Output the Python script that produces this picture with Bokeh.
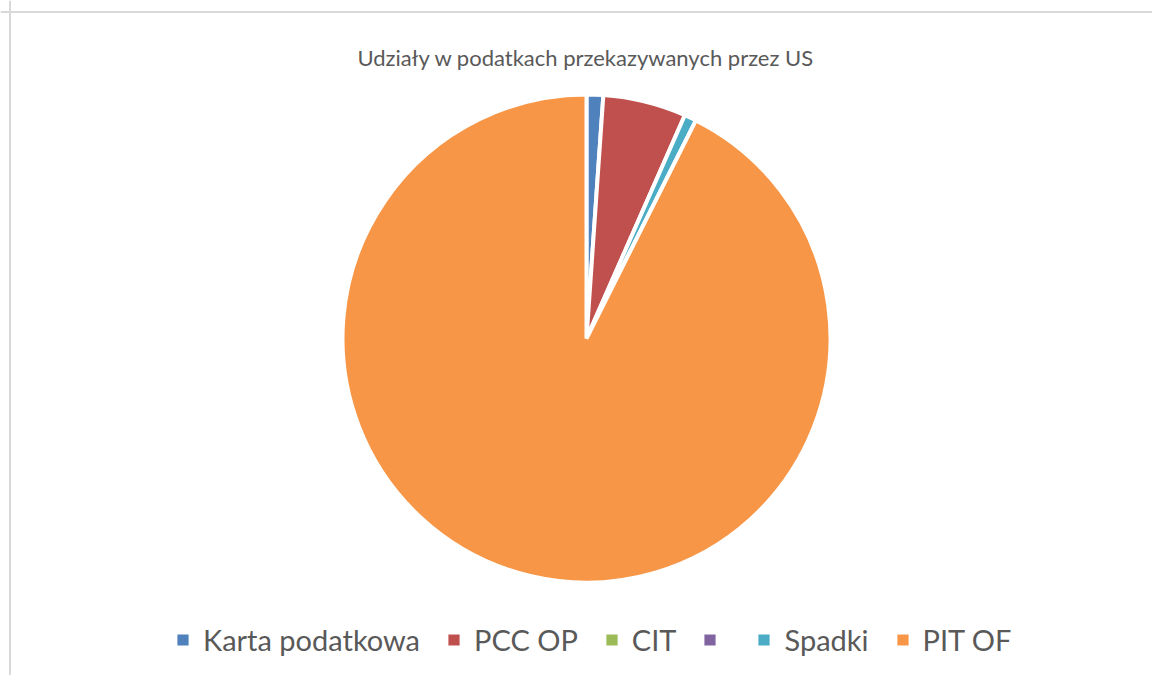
import numpy as np
from bokeh.plotting import figure
from bokeh.models import ColumnDataSource, Legend, LegendItem, Label, Span
from bokeh.embed import file_html
from bokeh.resources import INLINE

# ---- data ----
categories = ["Karta podatkowa", "PCC OP", "CIT", "", "Spadki", "PIT OF"]
shares = [1.1, 5.5, 0.0, 0.0, 0.8, 92.6]
colors = ["#4F81BD", "#C0504D", "#9BBB59", "#8064A2", "#4BACC6", "#F79646"]
title_text = "Udziały w podatkach przekazywanych przez US"

# ---- layout ----
W, H = 1152, 675
CX, CY, R = 586, 337, 244

p = figure(width=W, height=H, x_range=(0, W), y_range=(0, H),
           x_axis_type=None, y_axis_type=None,
           output_backend="svg", toolbar_location=None, min_border=0)
p.outline_line_color = None
p.background_fill_color = "white"
p.border_fill_color = "white"

vals = np.array(shares, dtype=float)
frac = vals / vals.sum()
cum = np.concatenate([[0.0], np.cumsum(frac)])
start = np.pi / 2 - cum[:-1] * 2 * np.pi
end = np.pi / 2 - cum[1:] * 2 * np.pi

nz = [i for i, v in enumerate(shares) if v > 0]
zr = [i for i, v in enumerate(shares) if v <= 0]

src_nz = ColumnDataSource(dict(cat=[categories[i] for i in nz],
                               start=start[nz], end=end[nz],
                               color=[colors[i] for i in nz]))
src_z = ColumnDataSource(dict(cat=[categories[i] for i in zr],
                              start=start[zr], end=end[zr],
                              color=[colors[i] for i in zr]))

r_nz = p.wedge(x=CX, y=CY, radius=R, start_angle="start", end_angle="end",
               direction="clock", fill_color="color", line_color="white",
               line_width=4, source=src_nz)
# zero-valued categories: present only in the legend (no visible slice)
r_z = p.wedge(x=CX, y=CY, radius=0, start_angle="start", end_angle="end",
              direction="clock", fill_color="color", line_color="white",
              line_width=4, source=src_z)

# frame lines of the chart area
p.add_layout(Span(location=9.5, dimension="height", line_color="#d9d9d9", line_width=2))
p.add_layout(Span(location=H - 11.5, dimension="width", line_color="#d9d9d9", line_width=2))

# title
p.add_layout(Label(x=585.5, y=H - 57, text=title_text, text_align="center",
                   text_baseline="alphabetic", text_font="Lato",
                   text_font_size="22px", text_color="#595959"))

items = []
for i, c in enumerate(categories):
    if i in nz:
        items.append(LegendItem(label=c, renderers=[r_nz], index=nz.index(i)))
    else:
        items.append(LegendItem(label=c, renderers=[r_z], index=zr.index(i)))

legend = Legend(items=items, orientation="horizontal", location=(173, 18),
                padding=0, margin=0, spacing=24, label_standoff=11,
                glyph_width=19, glyph_height=19, label_width=0,
                border_line_color=None, background_fill_alpha=0,
                label_text_font="Lato", label_text_font_size="29px",
                label_text_color="#595959")
p.add_layout(legend, "center")

open("out.html", "w").write(file_html(p, INLINE))
